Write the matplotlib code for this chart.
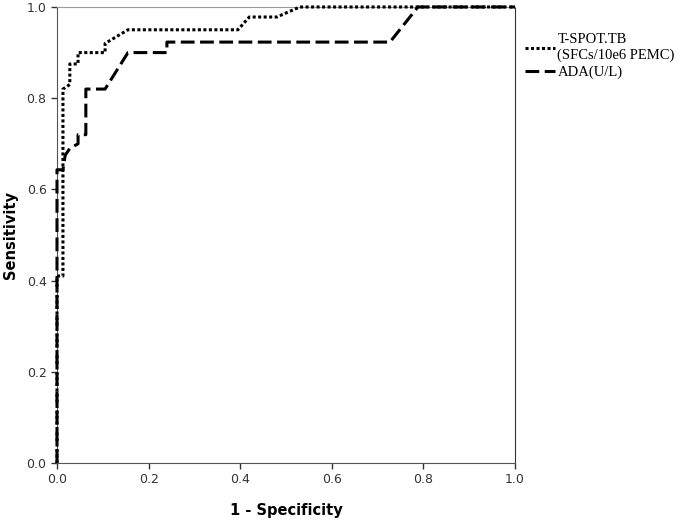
import numpy as np
from matplotlib import pyplot as plt

# ROC points
tspot_fpr = [0, 0, 0.013, 0.013, 0.028, 0.028, 0.046, 0.046, 0.105, 0.105, 0.155, 0.395, 0.42, 0.48, 0.53, 1.0]
tspot_tpr = [0, 0.41, 0.41, 0.82, 0.83, 0.875, 0.875, 0.9, 0.9, 0.92, 0.95, 0.95, 0.978, 0.978, 1.0, 1.0]
ada_fpr = [0, 0, 0.013, 0.018, 0.028, 0.046, 0.046, 0.063, 0.063, 0.105, 0.155, 0.24, 0.24, 0.727, 0.788, 1.0]
ada_tpr = [0, 0.643, 0.643, 0.675, 0.69, 0.70, 0.72, 0.72, 0.82, 0.82, 0.9, 0.9, 0.923, 0.923, 1.0, 1.0]
labels = ["T-SPOT.TB\n(SFCs/10e6 PEMC)", "ADA(U/L)"]
ticks = [0.0, 0.2, 0.4, 0.6, 0.8, 1.0]

fig = plt.figure(figsize=(6.85, 5.21), dpi=100)
ax = fig.add_axes([0.0832, 0.1113, 0.6686, 0.8753])

ax.plot(tspot_fpr, tspot_tpr, color='black', lw=2.2, linestyle=(0, (1, 0.8)),
        label=labels[0], clip_on=False, zorder=3)
ax.plot(ada_fpr, ada_tpr, color='black', lw=2.2, linestyle=(0, (4.5, 1.8)),
        label=labels[1], clip_on=False, zorder=3)

ax.set_xlim(0, 1)
ax.set_ylim(0, 1)
ax.set_xticks(ticks)
ax.set_yticks(ticks)
ax.set_xticklabels(["%.1f" % t for t in ticks])
ax.set_yticklabels(["%.1f" % t for t in ticks])
ax.tick_params(direction='out', length=4, width=1, colors='#333333', labelsize=9, labelcolor='#333333')
for side in ['left', 'bottom']:
    ax.spines[side].set_color('#555555')
ax.spines['top'].set_color('#999999')
ax.spines['right'].set_color('#333333')
ax.set_xlabel("1 - Specificity", fontsize=10.5, fontweight='bold', labelpad=12)
ax.set_ylabel("Sensitivity", fontsize=10.5, fontweight='bold', labelpad=6)

leg = ax.legend(loc='upper left', bbox_to_anchor=(1.01, 0.955), frameon=False,
                prop={'family': 'Liberation Serif', 'size': 10.5},
                handlelength=2.0, handletextpad=0.2, labelspacing=0.25, borderaxespad=0)

plt.savefig("out.png", dpi=100)
